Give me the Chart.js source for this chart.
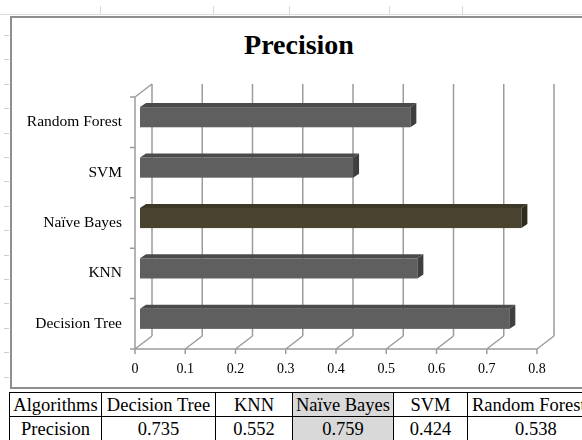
<!DOCTYPE html>
<html>
<head>
<meta charset="utf-8">
<script src="https://cdn.jsdelivr.net/npm/chart.js@4.4.0/dist/chart.umd.min.js"></script>
<style>
  html { overflow: hidden; }
  body { margin: 0; background: #fff; width: 582px; height: 440px; overflow: hidden; position: relative; font-family: 'Liberation Serif', serif; }
  .frame { position: absolute; left: 10px; top: 16px; width: 572px; height: 373px; border: 2px solid #8f8f8f; border-right: none; box-sizing: border-box; background: #fff; }
  .topline { position: absolute; left: 0; top: 14px; width: 582px; height: 1px; background: #dcdcdc; }
  .cell-v { position: absolute; top: 6px; width: 1px; height: 9px; background: #d8d8d8; }
  .row-t { position: absolute; left: 4px; width: 5px; height: 1px; background: #cfcfcf; }
  #title { position: absolute; left: 10px; width: 578px; top: 27px; line-height: 36px; text-align: center; font-weight: bold; font-size: 28px; color: #000; }
  canvas { position: absolute; left: 0; top: 0; }
  .tblwrap { position: absolute; left: 9px; top: 392px; width: 573px; height: 48px; overflow: hidden; }
  table { border-collapse: collapse; font-size: 18.5px; color: #000; table-layout: fixed; width: 640px; }
  td { border: 1.5px solid #000; height: 23px; padding: 0; text-align: center; white-space: nowrap; overflow: hidden; line-height: 22px; }
  td.hl { background: #d9d9d9; }
</style>
</head>
<body>
<div class="topline"></div>
<div class="frame"></div>
<div id="title">Precision</div>
<canvas id="precision-chart" width="582" height="390"></canvas>
<div class="tblwrap"><table id="tbl"></table></div>

<script>
const algorithms = ['Decision Tree', 'KNN', 'Naïve Bayes', 'SVM', 'Random Forest'];
const precision = [0.735, 0.552, 0.759, 0.424, 0.538];
const xTicks = [0, 0.1, 0.2, 0.3, 0.4, 0.5, 0.6, 0.7, 0.8];
const highlight = 'Naïve Bayes';

// excel sheet bits behind the chart
[100, 213, 289, 389, 462].forEach(x => {
    let d = document.createElement('div');
    d.className = 'cell-v';
    d.style.left = x + 'px';
    document.body.appendChild(d);
});
for (let y = 35; y < 392; y += 24.4) {
    let d = document.createElement('div');
    d.className = 'row-t';
    d.style.top = Math.round(y) + 'px';
    document.body.appendChild(d);
}

// data table under the chart
let colW = [91, 113, 76, 100, 73, 187];
let tbl = document.getElementById('tbl');
let r1 = '<tr><td style="width:' + colW[0] + 'px">Algorithms</td>';
let r2 = '<tr><td>Precision</td>';
algorithms.forEach((a, i) => {
    let cls = a === highlight ? ' class="hl"' : '';
    let st = a === 'Random Forest' ? 'text-align:left;padding-left:4px;' : '';
    r1 += '<td' + cls + ' style="' + st + 'width:' + colW[i + 1] + 'px">' + a + '</td>';
    r2 += '<td' + cls + ' style="' + st + (st ? 'padding-left:47px;' : '') + '">' + precision[i].toFixed(3) + '</td>';
});
tbl.innerHTML = r1 + '</tr>' + r2 + '</tr>';

const DX = 17, DY = -13;      // wall depth
const FX = 5, FY = -5;        // bar front offset
const BX = 6, BY = -4;        // bar depth
const lineCol = '#9c9c9c';

const walls = {
    id: 'walls',
    beforeDatasetsDraw(chart) {
        let c = chart.ctx, a = chart.chartArea;
        let xs = chart.scales.x;
        c.save();
        c.strokeStyle = lineCol;
        c.lineWidth = 1.5;
        c.beginPath();
        // back wall grid
        xTicks.forEach(v => {
            let px = xs.getPixelForValue(v);
            c.moveTo(px + DX, a.top + DY);
            c.lineTo(px + DX, a.bottom + DY);
            // floor diagonals
            c.moveTo(px, a.bottom);
            c.lineTo(px + DX, a.bottom + DY);
            // tick marks
            c.moveTo(px, a.bottom);
            c.lineTo(px, a.bottom + 5);
        });
        // floor front edge
        c.moveTo(a.left - 5, a.bottom);
        c.lineTo(xs.getPixelForValue(0.8), a.bottom);
        // side wall
        c.moveTo(a.left, a.top);
        c.lineTo(a.left, a.bottom);
        c.moveTo(a.left, a.top);
        c.lineTo(a.left + DX, a.top + DY);
        let n = algorithms.length;
        for (let i = 0; i <= n; i++) {
            let py = a.top + (a.bottom - a.top) * i / n;
            c.moveTo(a.left - 5, py);
            c.lineTo(a.left, py);
        }
        c.stroke();
        c.restore();
    },
    afterDatasetsDraw(chart) {
        let c = chart.ctx;
        let meta = chart.getDatasetMeta(0);
        meta.data.forEach((el, i) => {
            let nb = algorithms[i] === highlight;
            let front = nb ? '#4a4330' : '#5f5f5f';
            let top = nb ? '#3c3727' : '#4b4b4b';
            let side = nb ? '#2f2c1e' : '#3f3f3f';
            let x0 = el.base + FX, x1 = el.x + FX;
            let y0 = el.y - el.height / 2 + FY, y1 = el.y + el.height / 2 + FY;
            c.save();
            c.fillStyle = front;
            c.fillRect(x0, y0, x1 - x0, y1 - y0);
            c.fillStyle = top;
            c.beginPath();
            c.moveTo(x0, y0);
            c.lineTo(x0 + BX, y0 + BY);
            c.lineTo(x1 + BX, y0 + BY);
            c.lineTo(x1, y0);
            c.closePath();
            c.fill();
            c.fillStyle = side;
            c.beginPath();
            c.moveTo(x1, y0);
            c.lineTo(x1 + BX, y0 + BY);
            c.lineTo(x1 + BX, y1 + BY);
            c.lineTo(x1, y1);
            c.closePath();
            c.fill();
            c.restore();
        });
    }
};

let ctx = document.getElementById('precision-chart');

var chart = new Chart(ctx, {
    type: 'bar',
    data: {
        labels: algorithms,
        datasets: [{
            label: 'Precision',
            data: precision,
            backgroundColor: 'rgba(0,0,0,0)',
            borderWidth: 0,
            categoryPercentage: 1,
            barPercentage: 0.4
        }]
    },
    options: {
        indexAxis: 'y',
        responsive: false,
        animation: false,
        layout: {
            padding: { left: 10, right: 45, top: 97, bottom: 11 }
        },
        scales: {
            x: {
                min: 0,
                max: 0.8,
                afterFit: s => { s.height = 30; },
                afterBuildTicks: s => { s.ticks = xTicks.map(v => ({ value: v })); },
                ticks: {
                    padding: 12,
                    color: '#000',
                    font: { family: 'Liberation Serif', size: 14 }
                },
                grid: { display: false, drawTicks: false },
                border: { display: false }
            },
            y: {
                reverse: true,
                afterFit: s => { s.width = 125; },
                ticks: {
                    padding: 13,
                    color: '#000',
                    font: { family: 'Liberation Serif', size: 15.5 }
                },
                grid: { display: false, drawTicks: false },
                border: { display: false }
            }
        },
        plugins: {
            legend: { display: false },
            tooltip: { enabled: false }
        }
    },
    plugins: [walls]
});
</script>
</body>
</html>
